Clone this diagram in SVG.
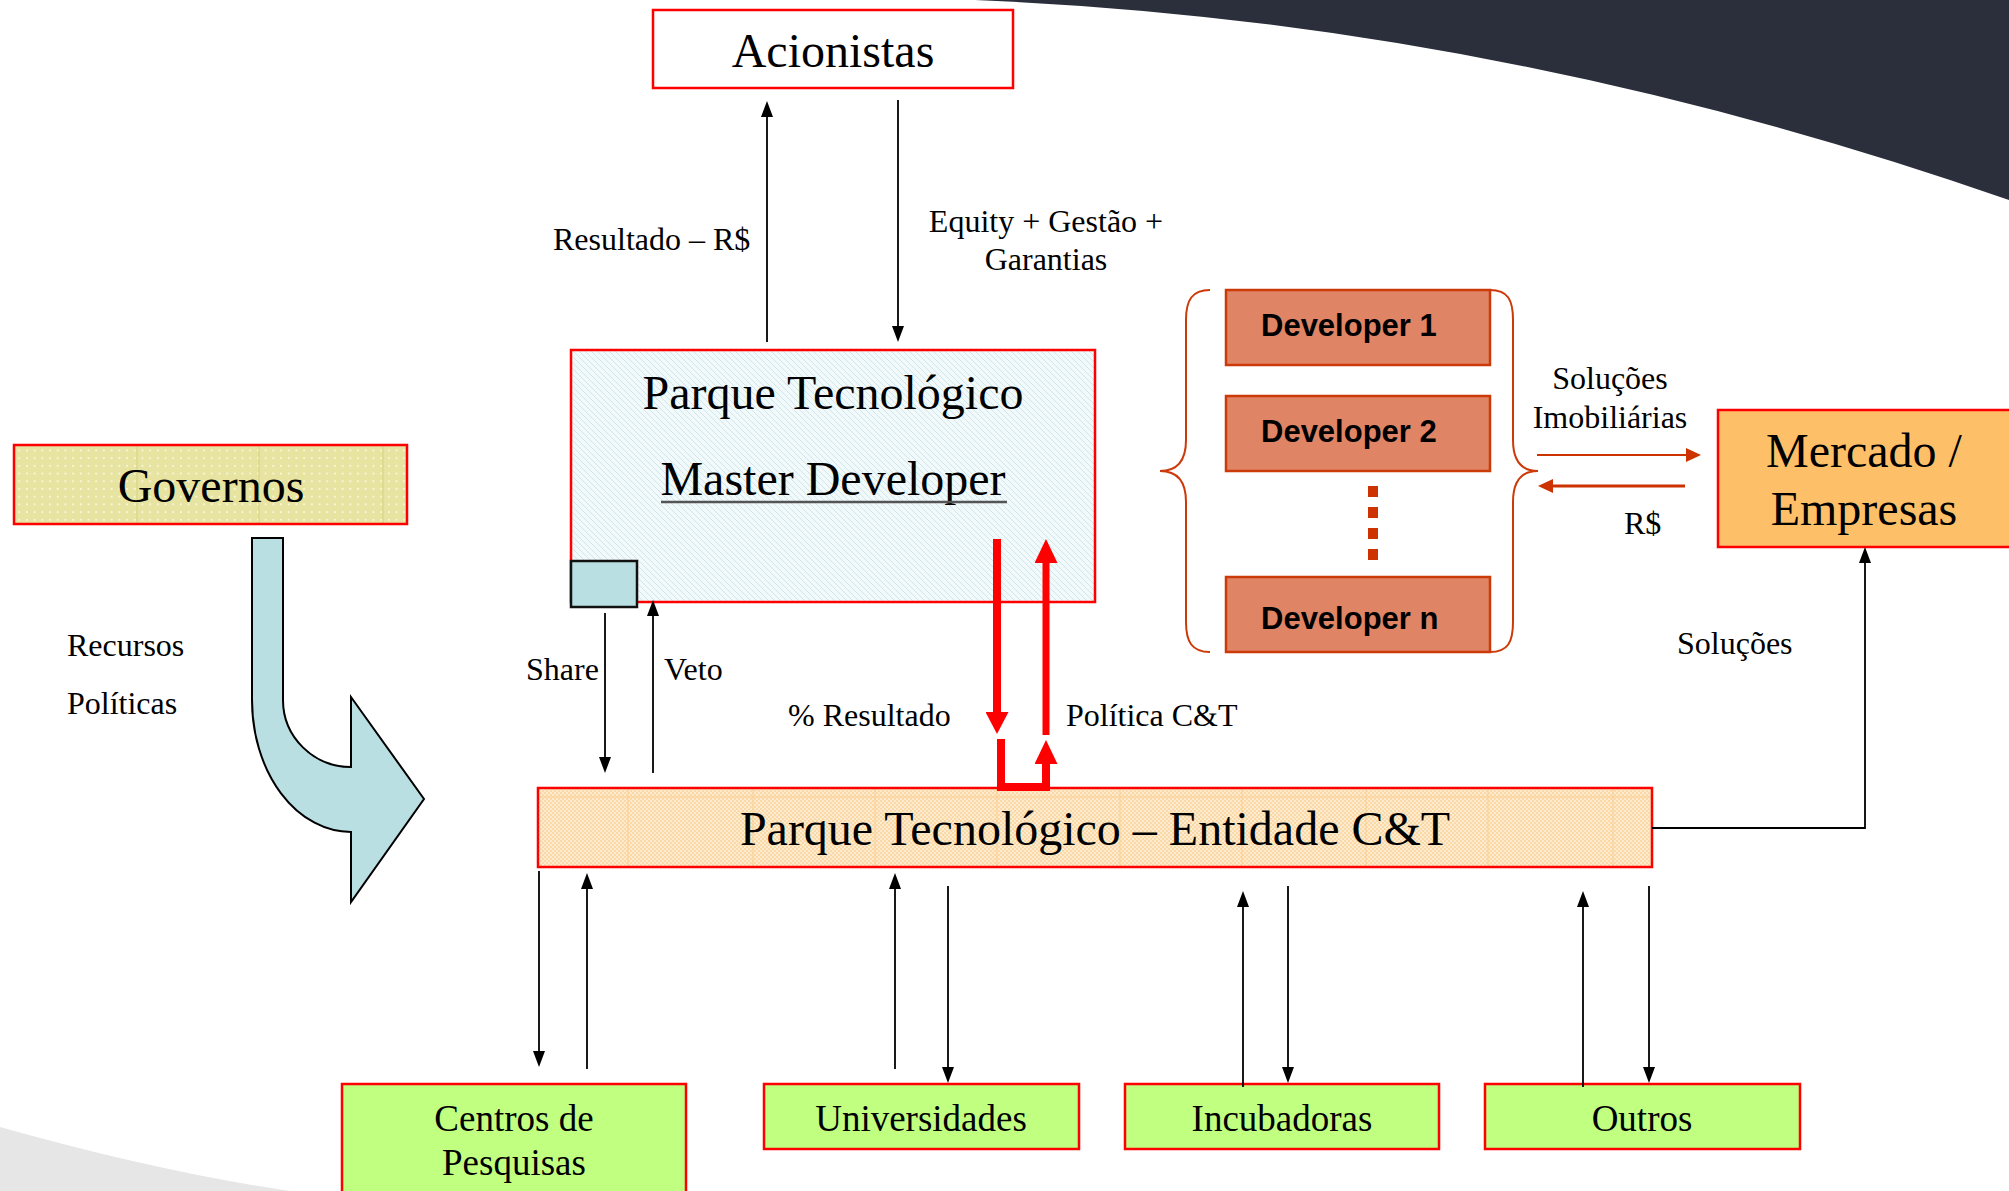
<svg xmlns="http://www.w3.org/2000/svg" width="2009" height="1191" viewBox="0 0 2009 1191">
  <style>
    .serif { font-family: "Liberation Serif", "Times New Roman", serif; fill: #000; }
    .big { font-size: 48px; text-anchor: middle; }
    .lbl { font-size: 32px; }
    .mid { text-anchor: middle; }
    .inst { font-size: 37px; text-anchor: middle; }
    .dev { font-family: "Liberation Sans", Arial, sans-serif; font-weight: bold; font-size: 31px; fill: #000; }
    .redbox { stroke: #ff0000; stroke-width: 2.5; }
    .devbox { fill: #e08466; stroke: #cc3a0a; stroke-width: 2.5; }
    .green { fill: #c0ff80; stroke: #ff0000; stroke-width: 2.5; }
    .conn { fill: none; stroke: #000; stroke-width: 1.8; }
    .red { fill: none; stroke: #ff0000; }
    .orange { fill: none; stroke: #cc3300; }
  </style>
  <defs>
    <!-- light blue diagonal hatch -->
    <pattern id="hatchBlue" width="6" height="6" patternUnits="userSpaceOnUse">
      <rect width="6" height="6" fill="#f1f9fa"/>
      <path d="M0 0 L6 6 M-1 5 L1 7 M5 -1 L7 1" stroke="#cfe7ec" stroke-width="1"/>
    </pattern>
    <!-- peach check texture with faint columns -->
    <pattern id="checkPeach" width="4" height="4" patternUnits="userSpaceOnUse">
      <rect width="4" height="4" fill="#fdebcf"/>
      <rect width="2" height="2" fill="#fbd9a6"/>
      <rect x="2" y="2" width="2" height="2" fill="#fbd9a6"/>
    </pattern>
    <!-- khaki with white dots -->
    <pattern id="dotsKhaki" width="7.7" height="7.7" patternUnits="userSpaceOnUse">
      <rect width="7.7" height="7.7" fill="#e7e3a1"/>
      <circle cx="3.8" cy="3.8" r="1" fill="#fbfbe8"/>
    </pattern>
    <marker id="ahBlack" viewBox="0 0 16 12" refX="0" refY="6" markerWidth="16" markerHeight="12" markerUnits="userSpaceOnUse" orient="auto">
      <path d="M0 0 L16 6 L0 12 Z" fill="#000"/>
    </marker>
    <marker id="ahRedDown" viewBox="0 0 22 23" refX="0" refY="11.5" markerWidth="22" markerHeight="23" markerUnits="userSpaceOnUse" orient="auto">
      <path d="M0 0 L22 11.5 L0 23 Z" fill="#ff0000"/>
    </marker>
    <marker id="ahRedUp" viewBox="0 0 24 23" refX="0" refY="11.5" markerWidth="24" markerHeight="23" markerUnits="userSpaceOnUse" orient="auto">
      <path d="M0 0 L24 11.5 L0 23 Z" fill="#ff0000"/>
    </marker>
    <marker id="ahOrange" viewBox="0 0 15 14" refX="0" refY="7" markerWidth="15" markerHeight="14" markerUnits="userSpaceOnUse" orient="auto">
      <path d="M0 0 L15 7 L0 14 Z" fill="#cc3300"/>
    </marker>
  </defs>

  <!-- page background -->
  <rect width="2009" height="1191" fill="#ffffff"/>
  <path d="M975 0 Q1497 21 2009 200 L2009 0 Z" fill="#2a2f3b"/>
  <path d="M0 1127 Q160 1172 290 1191 L0 1191 Z" fill="#e6e6e6"/>

  <!-- nodes -->
  <g id="acionistas">
    <rect x="653" y="10" width="360" height="78" fill="#ffffff" class="redbox"/>
    <text x="833" y="67" class="serif big">Acionistas</text>
  </g>

  <g id="master-developer">
    <rect x="571" y="350" width="524" height="252" fill="url(#hatchBlue)" class="redbox"/>
    <text x="833" y="409" class="serif big">Parque Tecnológico</text>
    <text x="833" y="495" class="serif big">Master Developer</text>
    <line x1="661" y1="502" x2="1007" y2="502" stroke="#555" stroke-width="2.5"/>
    <rect x="571" y="561" width="66" height="46" fill="#b9dfe3" stroke="#111" stroke-width="2.5"/>
  </g>

  <g id="governos">
    <rect x="14" y="445" width="393" height="79" fill="url(#dotsKhaki)"/>
    <g stroke="#d9d27a" stroke-width="1">
      <line x1="137" y1="446" x2="137" y2="523"/>
      <line x1="259" y1="446" x2="259" y2="523"/>
      <line x1="383" y1="446" x2="383" y2="523"/>
    </g>
    <rect x="14" y="445" width="393" height="79" fill="none" class="redbox"/>
    <text x="211" y="502" class="serif big">Governos</text>
  </g>

  <g id="fluxo-governo">
    <path d="M252 538 H283 V700 A68 67 0 0 0 351 767 V697 L424 799 L351 902 V832 A99 132 0 0 1 252 700 Z" fill="#b9dfe3" stroke="#000" stroke-width="2"/>
    <text x="67" y="656" class="serif lbl">Recursos</text>
    <text x="67" y="714" class="serif lbl">Políticas</text>
  </g>

  <g id="developers">
    <g id="developer-1">
      <rect x="1226" y="290" width="264" height="75" class="devbox"/>
      <text x="1261" y="336" class="dev">Developer 1</text>
    </g>
    <g id="developer-2">
      <rect x="1226" y="396" width="264" height="75" class="devbox"/>
      <text x="1261" y="442" class="dev">Developer 2</text>
    </g>
    <line x1="1373" y1="486" x2="1373" y2="561" stroke="#cc3300" stroke-width="10" stroke-dasharray="11 10"/>
    <g id="developer-n">
      <rect x="1226" y="577" width="264" height="75" class="devbox"/>
      <text x="1261" y="629" class="dev">Developer n</text>
    </g>
    <path d="M1210 290 C1192 290 1186 300 1186 320 L1186 440 C1186 462 1176 471 1160 471 C1176 471 1186 480 1186 502 L1186 622 C1186 642 1192 652 1210 652" fill="none" stroke="#cc3a0a" stroke-width="2"/>
    <path d="M1490 290 C1508 290 1513 300 1513 320 L1513 440 C1513 462 1523 471 1538 471 C1523 471 1513 480 1513 502 L1513 622 C1513 642 1508 652 1490 652" fill="none" stroke="#cc3a0a" stroke-width="2"/>
  </g>

  <g id="mercado">
    <rect x="1718" y="410" width="320" height="137" fill="#fdc068" class="redbox"/>
    <text x="1864" y="467" class="serif big">Mercado /</text>
    <text x="1864" y="525" class="serif big">Empresas</text>
  </g>

  <g id="entidade">
    <rect x="538" y="788" width="1114" height="79" fill="url(#checkPeach)"/>
    <g stroke="#f9cf92" stroke-width="1">
      <line x1="539" y1="797" x2="1651" y2="797"/>
      <line x1="628" y1="789" x2="628" y2="866"/>
      <line x1="753" y1="789" x2="753" y2="866"/>
      <line x1="875" y1="789" x2="875" y2="866"/>
      <line x1="997" y1="789" x2="997" y2="866"/>
      <line x1="1120" y1="789" x2="1120" y2="866"/>
      <line x1="1242" y1="789" x2="1242" y2="866"/>
      <line x1="1366" y1="789" x2="1366" y2="866"/>
      <line x1="1488" y1="789" x2="1488" y2="866"/>
      <line x1="1613" y1="789" x2="1613" y2="866"/>
    </g>
    <rect x="538" y="788" width="1114" height="79" fill="none" class="redbox"/>
    <text x="1095" y="845" class="serif big">Parque Tecnológico – Entidade C&amp;T</text>
  </g>

  <g id="centros">
    <rect x="342" y="1084" width="344" height="130" class="green"/>
    <text x="514" y="1131" class="serif inst">Centros de</text>
    <text x="514" y="1175" class="serif inst">Pesquisas</text>
  </g>
  <g id="universidades">
    <rect x="764" y="1084" width="315" height="65" class="green"/>
    <text x="921" y="1131" class="serif inst">Universidades</text>
  </g>
  <g id="incubadoras">
    <rect x="1125" y="1084" width="314" height="65" class="green"/>
    <text x="1282" y="1131" class="serif inst">Incubadoras</text>
  </g>
  <g id="outros">
    <rect x="1485" y="1084" width="315" height="65" class="green"/>
    <text x="1642" y="1131" class="serif inst">Outros</text>
  </g>

  <!-- connectors -->
  <g id="connectors">
    <line x1="767" y1="342" x2="767" y2="117" class="conn" marker-end="url(#ahBlack)"/>
    <line x1="898" y1="100" x2="898" y2="326" class="conn" marker-end="url(#ahBlack)"/>
    <line x1="605" y1="613" x2="605" y2="757" class="conn" marker-end="url(#ahBlack)"/>
    <line x1="653" y1="773" x2="653" y2="616" class="conn" marker-end="url(#ahBlack)"/>

    <line x1="997" y1="539" x2="997" y2="712" class="red" stroke-width="8" marker-end="url(#ahRedDown)"/>
    <line x1="1046" y1="735" x2="1046" y2="563" class="red" stroke-width="7" marker-end="url(#ahRedUp)"/>
    <path d="M1001 739 V787 H1046 V764" class="red" stroke-width="8" marker-end="url(#ahRedUp)"/>

    <line x1="1537" y1="455" x2="1686" y2="455" class="orange" stroke-width="2" marker-end="url(#ahOrange)"/>
    <line x1="1685" y1="486" x2="1553" y2="486" class="orange" stroke-width="3" marker-end="url(#ahOrange)"/>

    <path d="M1652 828 H1865 V563" class="conn" marker-end="url(#ahBlack)"/>

    <line x1="539" y1="871" x2="539" y2="1051" class="conn" marker-end="url(#ahBlack)"/>
    <line x1="587" y1="1069" x2="587" y2="889" class="conn" marker-end="url(#ahBlack)"/>
    <line x1="895" y1="1069" x2="895" y2="889" class="conn" marker-end="url(#ahBlack)"/>
    <line x1="948" y1="886" x2="948" y2="1067" class="conn" marker-end="url(#ahBlack)"/>
    <line x1="1243" y1="1087" x2="1243" y2="907" class="conn" marker-end="url(#ahBlack)"/>
    <line x1="1288" y1="886" x2="1288" y2="1067" class="conn" marker-end="url(#ahBlack)"/>
    <line x1="1583" y1="1087" x2="1583" y2="907" class="conn" marker-end="url(#ahBlack)"/>
    <line x1="1649" y1="886" x2="1649" y2="1067" class="conn" marker-end="url(#ahBlack)"/>
  </g>

  <!-- connector labels -->
  <g id="labels">
    <text x="553" y="250" class="serif lbl">Resultado – R$</text>
    <text x="1046" y="232" class="serif lbl mid">Equity + Gestão +</text>
    <text x="1046" y="270" class="serif lbl mid">Garantias</text>
    <text x="526" y="680" class="serif lbl">Share</text>
    <text x="664" y="680" class="serif lbl">Veto</text>
    <text x="788" y="726" class="serif lbl">% Resultado</text>
    <text x="1066" y="726" class="serif lbl">Política C&amp;T</text>
    <text x="1610" y="389" class="serif lbl mid">Soluções</text>
    <text x="1610" y="428" class="serif lbl mid">Imobiliárias</text>
    <text x="1624" y="534" class="serif lbl">R$</text>
    <text x="1677" y="654" class="serif lbl">Soluções</text>
  </g>
</svg>
